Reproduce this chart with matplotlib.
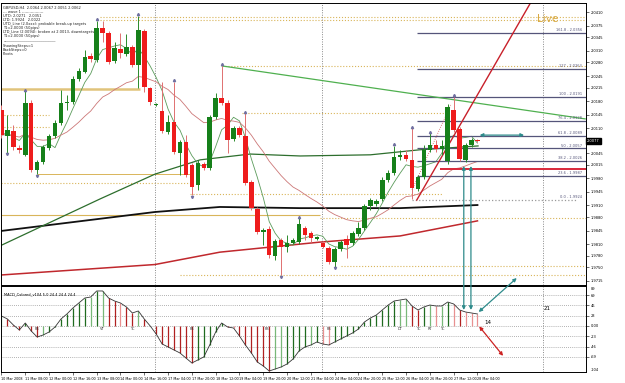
import matplotlib
matplotlib.use('Agg')
import matplotlib.pyplot as plt
import numpy as np
import pandas as pd
from matplotlib.patches import ConnectionPatch
import matplotlib.transforms as mtransforms

# GBPUSD H4 candles
opens = [2.0157, 2.0090, 2.0103, 2.0059, 2.0041, 2.0175, 2.0002, 2.0022, 2.0059, 2.0090,
         2.0123, 2.0175, 2.0178, 2.0237, 2.0256, 2.0297, 2.0287, 2.0369, 2.0357, 2.0284,
         2.0315, 2.0302, 2.0320, 2.0274, 2.0362, 2.0214, 2.0170, 2.0155, 2.0100, 2.0126,
         2.0046, 2.0074, 2.0015, 1.9963, 2.0017, 2.0007, 2.0139, 2.0188, 2.0175, 2.0082,
         2.0110, 2.0090, 1.9971, 1.9901, 1.9841, 1.9849, 1.9779, 1.9820, 1.9802, 1.9813,
         1.9815, 1.9851, 1.9839, 1.9823, 1.9813, 1.9800, 1.9763, 1.9797, 1.9823, 1.9813,
         1.9836, 1.9851, 1.9908, 1.9914, 1.9927, 1.9976, 1.9994, 2.0035, 2.0041, 2.0028,
         1.9953, 1.9984, 2.0054, 2.0066, 2.0056, 2.0025, 2.0157, 2.0108, 2.0028, 2.0066,
         2.0079]
highs = [2.0170, 2.0144, 2.0118, 2.0066, 2.0206, 2.0183, 2.0028, 2.0066, 2.0095, 2.0131,
         2.0209, 2.0196, 2.0245, 2.0266, 2.0313, 2.0305, 2.0388, 2.0388, 2.0362, 2.0333,
         2.0357, 2.0354, 2.0325, 2.0401, 2.0367, 2.0217, 2.0175, 2.0230, 2.0144, 2.0230,
         2.0079, 2.0092, 2.0020, 2.0028, 2.0022, 2.0144, 2.0201, 2.0271, 2.0183, 2.0116,
         2.0116, 2.0149, 1.9976, 1.9906, 1.9851, 1.9857, 1.9823, 1.9826, 1.9833, 1.9826,
         1.9877, 1.9857, 1.9844, 1.9831, 1.9818, 1.9805, 1.9802, 1.9820, 1.9833, 1.9844,
         1.9867, 1.9914, 1.9929, 1.9927, 1.9984, 2.0002, 2.0064, 2.0054, 2.0054, 2.0110,
         1.9989, 2.0066, 2.0097, 2.0079, 2.0079, 2.0173, 2.0191, 2.0113, 2.0072, 2.0085,
         2.0082]
lows = [2.0085, 2.0046, 2.0054, 2.0046, 2.0038, 1.9996, 1.9991, 2.0017, 2.0054, 2.0085,
        2.0118, 2.0157, 2.0173, 2.0232, 2.0253, 2.0281, 2.0281, 2.0333, 2.0276, 2.0279,
        2.0292, 2.0297, 2.0268, 2.0214, 2.0204, 2.0170, 2.0168, 2.0097, 2.0095, 2.0043,
        1.9989, 1.9984, 1.9937, 1.9950, 2.0002, 2.0002, 2.0134, 2.0170, 2.0046, 2.0077,
        2.0087, 1.9963, 1.9898, 1.9836, 1.9807, 1.9774, 1.9769, 1.9730, 1.9789, 1.9810,
        1.9810, 1.9820, 1.9815, 1.9820, 1.9800, 1.9758, 1.9751, 1.9792, 1.9774, 1.9807,
        1.9831, 1.9846, 1.9898, 1.9908, 1.9921, 1.9971, 1.9989, 2.0028, 2.0025, 1.9927,
        1.9947, 1.9978, 2.0048, 2.0048, 2.0041, 2.0017, 2.0100, 2.0025, 2.0022, 2.0061,
        2.0074]
closes = [2.0092, 2.0105, 2.0061, 2.0054, 2.0175, 2.0002, 2.0022, 2.0061, 2.0090, 2.0123,
          2.0175, 2.0178, 2.0237, 2.0258, 2.0294, 2.0289, 2.0369, 2.0357, 2.0281, 2.0318,
          2.0305, 2.0320, 2.0274, 2.0364, 2.0217, 2.0178, 2.0173, 2.0103, 2.0126, 2.0048,
          2.0074, 1.9989, 1.9958, 2.0020, 2.0007, 2.0139, 2.0188, 2.0175, 2.0079, 2.0110,
          2.0092, 1.9968, 1.9903, 1.9841, 1.9846, 1.9782, 1.9818, 1.9802, 1.9813, 1.9820,
          1.9862, 1.9833, 1.9826, 1.9828, 1.9802, 1.9763, 1.9797, 1.9815, 1.9807, 1.9839,
          1.9851, 1.9908, 1.9924, 1.9921, 1.9976, 1.9994, 2.0035, 2.0041, 2.0030, 1.9955,
          1.9984, 2.0054, 2.0066, 2.0056, 2.0064, 2.0165, 2.0105, 2.0030, 2.0066, 2.0079,
          2.0077]

# MACD_Colored values per bar
macd = [22.3, 15.6, 2.2, -8.9, 6.7, -11.2, -24.5, -20.1, -13.4, -2.2,
        15.6, 26.8, 40.1, 51.3, 62.4, 64.7, 78.1, 78.1, 62.4, 55.8,
        51.3, 42.4, 29.0, 33.5, 15.6, 0.0, -17.8, -40.1, -46.8, -53.5,
        -60.2, -71.4, -82.5, -75.8, -69.1, -42.4, -13.4, 6.7, -2.2, -4.5,
        -22.3, -42.4, -60.2, -80.3, -89.2, -100.4, -95.9, -91.4, -84.7, -73.6,
        -55.8, -46.8, -42.4, -35.7, -40.1, -42.4, -35.7, -29.0, -22.3, -15.6,
        -6.7, 8.9, 17.8, 24.5, 35.7, 46.8, 55.8, 58.0, 60.2, 44.6,
        35.7, 42.4, 46.8, 44.6, 44.6, 53.5, 49.1, 35.7, 31.2, 29.0, 26.8]

# long moving averages, read at a few bars
ma_green_idx = [0, 6.5, 16.6, 25.8, 33.4, 41.8, 50.2, 62, 70.3, 80.1]
ma_green_val = [1.9807, 1.9854, 1.9927, 1.9991, 2.0028, 2.0043, 2.0038, 2.0041, 2.0054, 2.0064]
ma_black_idx = [0, 25.8, 36.7, 50.2, 67, 80]
ma_black_val = [1.9844, 1.9893, 1.9906, 1.9903, 1.9903, 1.9911]
ma_red_idx = [0, 25.8, 36.7, 53.5, 67, 80]
ma_red_val = [1.9730, 1.9757, 1.9789, 1.9815, 1.9831, 1.9870]

date_labels = ['10 Mar 2008', '11 Mar 08:00', '12 Mar 00:00', '12 Mar 16:00', '13 Mar 08:00',
               '14 Mar 00:00', '14 Mar 16:00', '17 Mar 04:00', '17 Mar 20:00', '18 Mar 12:00',
               '19 Mar 04:00', '19 Mar 20:00', '20 Mar 12:00', '21 Mar 04:00', '24 Mar 04:00',
               '24 Mar 20:00', '25 Mar 12:00', '26 Mar 04:00', '26 Mar 20:00', '27 Mar 12:00',
               '28 Mar 04:00']
price_ticks = [2.0410, 2.0375, 2.0345, 2.0310, 2.0280, 2.0245, 2.0215, 2.0180, 2.0145, 2.0110,
               2.0045, 2.0015, 1.9980, 1.9945, 1.9910, 1.9880, 1.9845, 1.9810, 1.9780,
               1.9750, 1.9715]

fib_low, fib_high = 1.9924, 2.0191
fib_levels = [0.0, 23.6, 38.2, 50.0, 61.8, 76.4, 100.0, 127.0, 161.8]

header = ['GBPUSD,H4  2.0064 2.0067 2.0051 2.0062',
          '--- wave 1 -----------------',
          'UTD: 2.0271   2.0351',
          'LTD: 1.9924   2.0022',
          'UTD_Line (2.0xxx): probable break-up targets',
          'T1=2.0000 (50pips)',
          'LTD_Line (2.0094): broken at 2.0013, downtargets',
          'T1=2.0000 (50pips)',
          '____________________________',
          'ShowingSteps=1',
          'BackSteps=0',
          'Pivots']

n = len(closes)
idx = np.arange(n)
GREEN = '#16801a'
RED = '#ee1c1c'
TAN = '#d9b55a'
TEAL = '#2e8b8b'
FIB = '#55557a'

fig = plt.figure(figsize=(6.25, 3.83), dpi=100)
ax = fig.add_axes([1 / 625, 98 / 383, 585 / 625, 282 / 383])
axm = fig.add_axes([1 / 625, 11 / 383, 585 / 625, 86 / 383])
xmin, xmax = -0.08, 98.24
for a in (ax, axm):
    a.set_xlim(xmin, xmax)
    for s in a.spines.values():
        s.set_linewidth(0.7)
ax.set_ylim(1.9704, 2.0434)
axm.set_ylim(-102.6, 89.2)

# support / resistance levels
ax.hlines([2.0398, 2.0390], 16.5, xmax, colors=TAN, linestyles=':', lw=0.8)
ax.hlines(2.0271, 37, xmax, colors=TAN, linestyles=':', lw=0.8)
ax.hlines(2.0211, 0, 23.3, colors=TAN, lw=1.8, alpha=0.8)
ax.hlines(2.0149, 40.5, 75.5, colors=TAN, linestyles=':', lw=0.8)
ax.hlines([2.0144, 2.0113], 0, 8, colors=TAN, linestyles=':', lw=0.8)
ax.hlines(1.9991, 6, 31.7, colors=TAN, lw=0.7)
ax.hlines(1.9968, 0, 31.7, colors=TAN, linestyles=':', lw=0.8)
ax.hlines(1.9940, 31.7, 74, colors=TAN, linestyles=':', lw=0.8)
ax.hlines(1.9885, 0, 53.5, colors=TAN, lw=0.8)
ax.hlines(1.9877, 53.5, xmax, colors=TAN, linestyles=':', lw=0.8)
ax.hlines(1.9753, 57, xmax, colors=TAN, linestyles=':', lw=0.8)
ax.hlines(1.9730, 30, xmax, colors=TAN, linestyles=':', lw=0.8)

# period separators
for a in (ax, axm):
    for xs in (25.8, 53.9, 91.0):
        a.axvline(xs, color='#888888', ls=(0, (1, 1.5)), lw=0.7)

# long MAs
ax.plot(ma_red_idx, ma_red_val, color='#c0282d', lw=1.1)
ax.plot(ma_black_idx, ma_black_val, color='#111111', lw=1.3)
ax.plot(ma_green_idx, ma_green_val, color='#2d6e2d', lw=0.9)

# short MAs from closes
cs = pd.Series(closes)
ax.plot(idx, cs.rolling(5, min_periods=1).mean(), color='#5b9b5b', lw=0.6)
ax.plot(idx, cs.ewm(span=21, adjust=False).mean(), color='#cc7777', lw=0.6)

# fibonacci
fib_prices = [fib_low + (fib_high - fib_low) * lv / 100 for lv in fib_levels]
for lv, fp in zip(fib_levels, fib_prices):
    if lv == 0:
        ax.hlines(fp, 69.0, 96.5, colors='#999999', linestyles=':', lw=0.9)
        lab = '0.0 - %.4f' % fp
    else:
        ax.hlines(fp, 69.8, xmax, colors=FIB, lw=0.9)
        lab = ('%g' % lv) + ' - %.4f' % fp
    ax.text(97.6, fp + 0.0002, lab, fontsize=2.6, color=FIB, ha='right', va='bottom')

# trend lines
ax.plot([37.1, 98.1], [2.0271, 2.0134], color='#4fb04f', lw=0.9)
ax.plot([69.8, 89.2], [1.9924, 2.0442], color='#c8202a', lw=1.0)
ax.plot([69.0, 75.5], [1.9950, 2.0170], color='#d05050', lw=0.6, ls=':')
ax.hlines(2.0004, 73.7, xmax, colors='#d8283a', lw=1.4)

# candles
for i in range(n):
    up = closes[i] >= opens[i]
    col = GREEN if up else RED
    wcol = '#2a8a2a' if up else '#e07070'
    ax.vlines(i, lows[i], highs[i], color=wcol, lw=0.7, zorder=3)
    lo, hi = min(opens[i], closes[i]), max(opens[i], closes[i])
    ax.bar(i, max(hi - lo, 0.00008), bottom=lo, width=0.76, color=col, lw=0, zorder=4)

# swing markers
hi_marks = [4, 16, 23, 29, 37, 41, 50, 66, 69, 72, 76]
lo_marks = [1, 6, 32, 47, 56]
ax.plot(hi_marks, [highs[k] + 0.0004 for k in hi_marks], '^', ms=1.6, color='#7070a0', zorder=5)
ax.plot(lo_marks, [lows[k] - 0.0004 for k in lo_marks], 'v', ms=1.6, color='#7070a0', zorder=5)

ax.text(0.935, 0.945, 'Live', transform=ax.transAxes, fontsize=7.5, color='#d9a940', ha='center', va='center')

# axes ticks
ax.set_xticks([])
ax.yaxis.tick_right()
ax.set_yticks(price_ticks)
ax.set_yticklabels(['%.4f' % t for t in price_ticks])
ax.tick_params(axis='y', labelsize=2.6, length=2, width=0.4, pad=1.5)
ax.text(1.002, closes[-1], '%.4f' % closes[-1],
        transform=mtransforms.blended_transform_factory(ax.transAxes, ax.transData),
        fontsize=2.6, color='white', ha='left', va='center',
        bbox=dict(boxstyle='square,pad=0.2', fc='black', ec='black'))

for k, line in enumerate(header):
    y = 1 - (3 + 4.0 * k + (2 if k >= 9 else 0)) / 282
    ax.text(2 / 585, y, line, transform=ax.transAxes, fontsize=2.6, color='#222222', va='top', ha='left')

# MACD panel
for i in range(n):
    prev = macd[i - 1] if i > 0 else macd[i]
    rising = macd[i] >= prev
    big = abs(macd[i] - prev) > 5
    if rising:
        col = '#1f6b1f' if big else '#78b878'
    else:
        col = '#b02020' if big else '#e89090'
    axm.vlines(i, 0, macd[i], color=col, lw=0.9)
axm.plot(idx, macd, color='#333333', lw=0.6)
macd_ticks = [-69, -46, -23, 0, 23, 46, 69]
for t in macd_ticks:
    axm.axhline(t, color='#999999', ls=(0, (1, 1.5)), lw=0.6, zorder=0)
axm.yaxis.tick_right()
axm.set_yticks(macd_ticks)
axm.set_yticklabels(['-69', '-46', '-23', '0.00', '23', '46', '69'])
axm.tick_params(axis='y', labelsize=2.6, length=2, width=0.4, pad=1.5)
axm.text(1.008, 0.99, '89', transform=axm.transAxes, fontsize=2.6, va='top')
axm.text(1.008, 0.0, '-104', transform=axm.transAxes, fontsize=2.6, va='bottom')
axm.set_xticks(np.arange(0, n, 4))
axm.set_xticklabels(date_labels, ha='left')
axm.tick_params(axis='x', labelsize=2.4, length=2, width=0.4, pad=1.5)
axm.text(0.005, 0.93, 'MACD_Colored_v104 5.0 24.4 24.4 24.4', transform=axm.transAxes, fontsize=2.6, va='top')

macd_tags = [(6, 'PB'), (17, 'VT'), (22, 'TC'), (32, 'PB'), (44.6, 'PB'), (55, 'PB'),
             (67, 'DT'), (70, 'TC'), (72, 'RT'), (74, 'TC')]
for xi, tg in macd_tags:
    axm.text(xi, -3, tg, fontsize=2.6, ha='center', va='top', color='#333333')
axm.text(81.2, 6.7, '14', fontsize=4, ha='left', va='center')
axm.text(91.2, 40, '21', fontsize=4, ha='left', va='center')

# arrows
arrow_kw = dict(arrowstyle='<|-|>', mutation_scale=5, lw=0.9)
for xi in (77.7, 78.9):
    con = ConnectionPatch(xyA=(xi, 2.0012), coordsA=ax.transData, xyB=(xi, 35.7), coordsB=axm.transData,
                          color=TEAL, **arrow_kw)
    fig.add_artist(con)
ax.annotate('', xy=(79.9, 2.0092), xytext=(88.3, 2.0092),
            arrowprops=dict(arrowstyle='<|-|>', mutation_scale=5, color=TEAL, lw=0.9))
con = ConnectionPatch(xyA=(80.2, 31.2), coordsA=axm.transData, xyB=(86.6, 1.9722), coordsB=ax.transData,
                      color=TEAL, **arrow_kw)
fig.add_artist(con)
axm.annotate('', xy=(80.0, 4.0), xytext=(84.6, -71.4),
             arrowprops=dict(arrowstyle='<|-|>', mutation_scale=5, color='#cc2222', lw=0.9))

fig.savefig('out.png', dpi=100)
